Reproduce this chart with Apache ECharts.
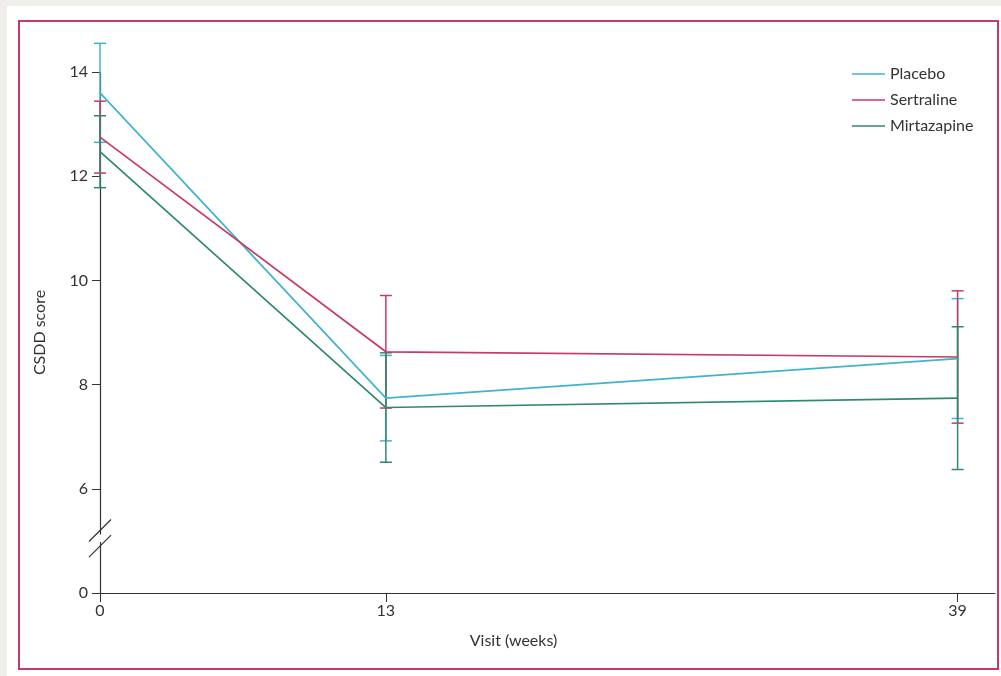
<!DOCTYPE html>
<html>
<head>
<meta charset="utf-8">
<script src="https://cdn.jsdelivr.net/npm/echarts@6/dist/echarts.min.js"></script>
<style>
  html, body { margin: 0; padding: 0; background: #efeeeb; }
  #chart { width: 1001px; height: 676px; }
</style>
</head>
<body>
<div id="chart"></div>
<script>
// weeks of visit
var visits = [0, 13, 39];
var groupNames = ["Placebo", "Sertraline", "Mirtazapine"];
var groupColors = ["#3fb4cc", "#c83a64", "#2f8a6c"];

// mean CSDD score per visit
var placeboMean = [13.6, 7.74, 8.5];
var sertralineMean = [12.75, 8.63, 8.53];
var mirtazapineMean = [12.47, 7.56, 7.74];

// half width of the error bar per visit
var placeboErr = [0.95, 0.82, 1.15];
var sertralineErr = [0.69, 1.08, 1.27];
var mirtazapineErr = [0.69, 1.05, 1.37];

// y axis: 4 on the scale is shown as 0 (broken axis)
var yTicks = [4, 6, 8, 10, 12, 14];
var yTickLabels = ["0", "6", "8", "10", "12", "14"];
var xTicks = [0, 13, 39];

var means = [placeboMean, sertralineMean, mirtazapineMean];
var errs = [placeboErr, sertralineErr, mirtazapineErr];

var font = "Lato, 'Open Sans', sans-serif";
var myChart = echarts.init(document.getElementById("chart"));

var series = [];
// error bars
means.forEach(function (m, gi) {
  series.push({
    name: groupNames[gi] + " CI",
    type: "custom",
    clip: false,
    z: 2,
    renderItem: function (params, api) {
      var x = api.value(0);
      var top = api.coord([x, api.value(1)]);
      var bot = api.coord([x, api.value(2)]);
      var w = 6;
      var st = { stroke: groupColors[gi], lineWidth: 1.5 };
      return {
        type: "group",
        children: [
          { type: "line", shape: { x1: top[0], y1: top[1], x2: bot[0], y2: bot[1] }, style: st },
          { type: "line", shape: { x1: top[0] - w, y1: top[1], x2: top[0] + w, y2: top[1] }, style: st },
          { type: "line", shape: { x1: bot[0] - w, y1: bot[1], x2: bot[0] + w, y2: bot[1] }, style: st },
        ],
      };
    },
    data: visits.map(function (v, i) {
      return [v, m[i] + errs[gi][i], m[i] - errs[gi][i]];
    }),
  });
});
// mean lines
means.forEach(function (m, gi) {
  series.push({
    name: groupNames[gi],
    type: "line",
    symbol: "none",
    z: 3,
    lineStyle: { color: groupColors[gi], width: 1.7 },
    itemStyle: { color: groupColors[gi] },
    data: visits.map(function (v, i) {
      return [v, m[i]];
    }),
  });
});

var frame = [
  { type: "rect", z: -10, shape: { x: 7, y: 6, width: 994, height: 670 }, style: { fill: "#ffffff" } },
  { type: "rect", z: -9, shape: { x: 19, y: 21, width: 979, height: 648 }, style: { fill: "none", stroke: "#c8396b", lineWidth: 2 } },
];

myChart.setOption({
  backgroundColor: "#efeeeb",
  animation: false,
  graphic: frame,
  legend: {
    data: groupNames,
    orient: "vertical",
    left: 847,
    top: 61,
    icon: "rect",
    itemWidth: 33,
    itemHeight: 1.5,
    itemGap: 10,
    textStyle: { fontFamily: font, fontSize: 16, color: "#333" },
  },
  grid: { left: 100, right: 6, top: 72, bottom: 83 },
  xAxis: {
    type: "value",
    min: 0,
    max: 40.7,
    name: "Visit (weeks)",
    nameLocation: "middle",
    nameGap: 40,
    nameTextStyle: { fontFamily: font, fontSize: 16, color: "#333", padding: [0, 68, 0, 0] },
    splitLine: { show: false },
    axisLine: { lineStyle: { color: "#333", width: 1.2 } },
    axisTick: { customValues: xTicks, length: 9, lineStyle: { color: "#333" } },
    axisLabel: { customValues: xTicks, fontFamily: font, fontSize: 16, color: "#333", margin: 10 },
  },
  yAxis: {
    type: "value",
    min: 4,
    max: 14,
    name: "CSDD score",
    nameLocation: "middle",
    nameGap: 52,
    nameTextStyle: { fontFamily: font, fontSize: 16, color: "#333" },
    splitLine: { show: false },
    axisLine: { show: true, lineStyle: { color: "#333", width: 1.2 } },
    axisTick: { show: true, customValues: yTicks, length: 8, lineStyle: { color: "#333" } },
    axisLabel: {
      customValues: yTicks,
      fontFamily: font,
      fontSize: 16,
      color: "#333",
      margin: 12,
      formatter: function (v) {
        return yTickLabels[yTicks.indexOf(v)];
      },
    },
  },
  series: series,
});

// axis break marks between 0 and 6
var p1 = myChart.convertToPixel({ gridIndex: 0 }, [0, 5.2]);
var p2 = myChart.convertToPixel({ gridIndex: 0 }, [0, 4.9]);
myChart.setOption({
  graphic: frame.concat([
    { type: "rect", z: 10, shape: { x: p1[0] - 3, y: p1[1] + 4, width: 6, height: p2[1] - p1[1] - 8 }, style: { fill: "#ffffff" } },
    { type: "line", z: 11, shape: { x1: p1[0] - 11, y1: p1[1] + 11, x2: p1[0] + 11, y2: p1[1] - 11 }, style: { stroke: "#333", lineWidth: 1.3 } },
    { type: "line", z: 11, shape: { x1: p2[0] - 11, y1: p2[1] + 11, x2: p2[0] + 11, y2: p2[1] - 11 }, style: { stroke: "#333", lineWidth: 1.3 } },
  ]),
});
</script>
</body>
</html>
